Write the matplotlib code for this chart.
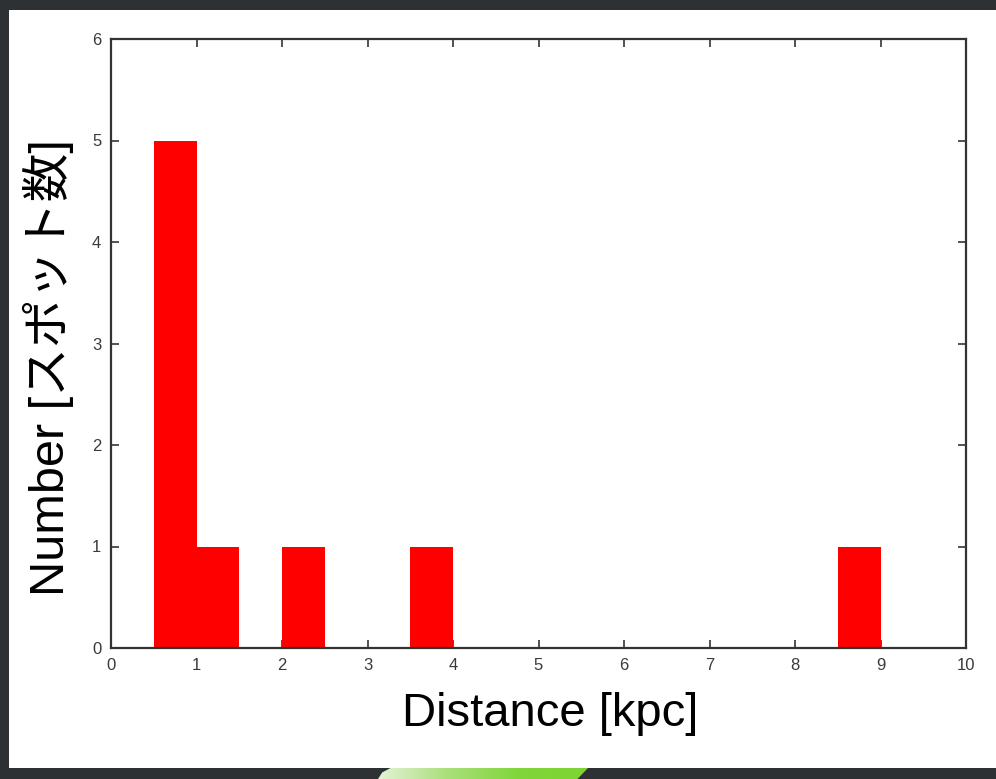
import numpy as np
import matplotlib.pyplot as plt
from matplotlib.patches import Rectangle, Polygon
from matplotlib.colors import LinearSegmentedColormap

plt.rcParams['font.family'] = ['Liberation Sans', 'Noto Sans CJK JP', 'DejaVu Sans']

# histogram bins (left edge, width 0.5 kpc) and counts
bin_left = [0.5, 1.0, 2.0, 3.5, 8.5]
counts = [5, 1, 1, 1, 1]
bin_width = 0.5

x_ticks = list(range(0, 11))
y_ticks = list(range(0, 7))

W, H = 996, 779
fig = plt.figure(figsize=(W / 100, H / 100), dpi=100, facecolor='#2e3134')

# white slide panel
fig.patches.append(Rectangle((9 / W, 11 / H), 1 - 9 / W, 1 - 21 / H,
                             transform=fig.transFigure, facecolor='white',
                             edgecolor='none', zorder=-5))

ax = fig.add_axes([111 / W, (H - 648) / H, (966 - 111) / W, (648 - 39) / H])
ax.set_zorder(2)
ax.set_axisbelow(True)
ax.bar(bin_left, counts, width=bin_width, align='edge', color='#ff0000',
       edgecolor='none', zorder=2)

ax.set_xlim(0, 10)
ax.set_ylim(0, 6)
ax.set_xticks(x_ticks)
ax.set_yticks(y_ticks)
ax.tick_params(direction='in', length=6, width=1.3, color='#444444',
               top=True, right=True, labelsize=12, labelcolor='#3a3a3a', pad=7)
for s in ax.spines.values():
    s.set_linewidth(1.6)
    s.set_color('#333333')
    s.set_zorder(3)

fig.text(550 / W, (H - 714) / H, 'Distance [kpc]', fontsize=34,
         ha='center', va='center', color='black', zorder=3)
fig.text(48 / W, (H - 368) / H, 'Number [スポット数]', fontsize=35,
         rotation=90, ha='center', va='center', color='black', zorder=3)

# green tab at the bottom edge
tab = fig.add_axes([378 / W, 0, 210 / W, 11 / H])
tab.set_axis_off()
grad = np.linspace(0, 1, 256).reshape(1, -1)
cmap = LinearSegmentedColormap.from_list('g', ['#e4f3d6', '#a9df7a', '#80d63a', '#7ed432'])
img = tab.imshow(grad, aspect='auto', cmap=cmap, extent=(0, 1, 0, 1))
clip = Polygon([(0.0, 0.0), (0.02, 0.6), (0.06, 1.0), (1.0, 1.0), (0.95, 0.0)],
               closed=True, transform=tab.transAxes)
img.set_clip_path(clip)
tab.set_xlim(0, 1)
tab.set_ylim(0, 1)

fig.savefig('out.png', dpi=100, facecolor=fig.get_facecolor())
